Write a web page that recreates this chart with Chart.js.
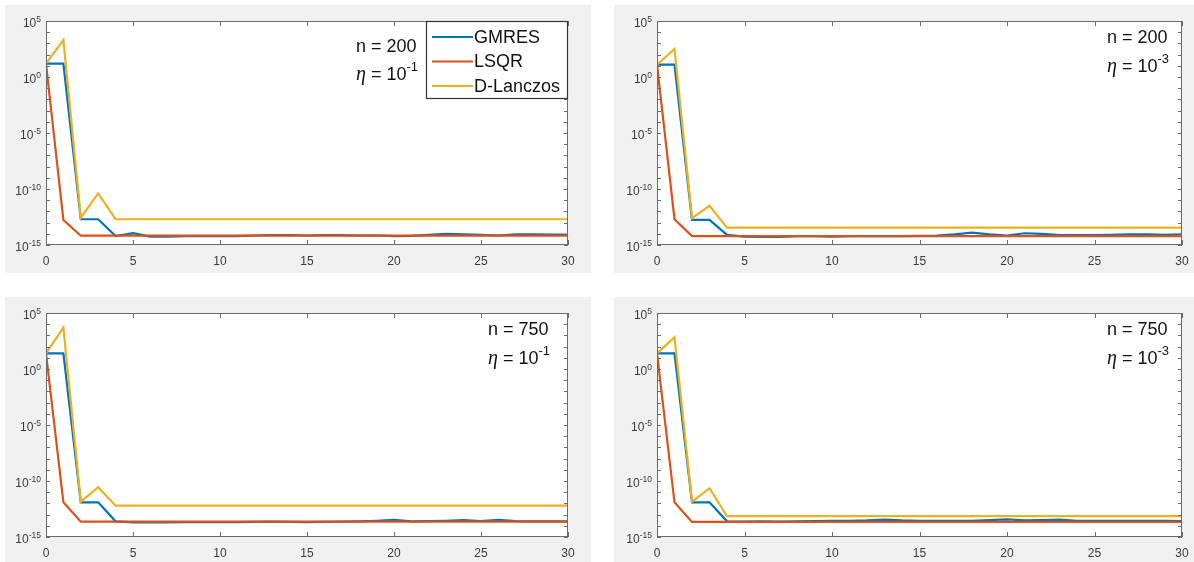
<!DOCTYPE html>
<html>
<head>
<meta charset="utf-8">
<script src="https://cdn.jsdelivr.net/npm/chart.js@4.4.0/dist/chart.umd.min.js"></script>
<style>
  html, body { margin: 0; padding: 0; background: #fff; }
  body { width: 1194px; height: 562px; position: relative; overflow: hidden; }
  .panel { position: absolute; background: #f0f0f0; }
  .panel canvas { display: block; }
</style>
</head>
<body>
<div class="panel" style="left:5px;top:5px;width:586px;height:268px"><canvas id="c1" width="586" height="268"></canvas></div>
<div class="panel" style="left:614px;top:5px;width:580px;height:268px"><canvas id="c2" width="580" height="268"></canvas></div>
<div class="panel" style="left:5px;top:297px;width:586px;height:265px"><canvas id="c3" width="586" height="265"></canvas></div>
<div class="panel" style="left:614px;top:297px;width:580px;height:265px"><canvas id="c4" width="580" height="265"></canvas></div>
<script>
// iteration numbers
const iters = [0, 1, 2, 3, 4, 5, 6, 7, 8, 9, 10, 11, 12, 13, 14, 15, 16, 17, 18, 19, 20, 21, 22, 23, 24, 25, 26, 27, 28, 29, 30];

// residuals as log10 values
// n = 200, eta = 1e-1
const gmres200a = [1.2, 1.2, -12.7, -12.7, -14.2, -13.95, -14.25, -14.25, -14.2, -14.2, -14.2, -14.2, -14.15, -14.12, -14.12, -14.15, -14.12, -14.12, -14.15, -14.15, -14.2, -14.18, -14.1, -14.0, -14.05, -14.1, -14.15, -14.05, -14.05, -14.08, -14.08];
const lsqr200a = [1.2, -12.77, -14.17, -14.17, -14.17, -14.17, -14.17, -14.17, -14.17, -14.17, -14.17, -14.17, -14.17, -14.17, -14.17, -14.17, -14.17, -14.17, -14.17, -14.17, -14.17, -14.17, -14.17, -14.17, -14.17, -14.17, -14.17, -14.17, -14.17, -14.17, -14.17];
const lanczos200a = [1.2, 3.3, -12.56, -10.4, -12.7, -12.7, -12.7, -12.7, -12.7, -12.7, -12.7, -12.7, -12.7, -12.7, -12.7, -12.7, -12.7, -12.7, -12.7, -12.7, -12.7, -12.7, -12.7, -12.7, -12.7, -12.7, -12.7, -12.7, -12.7, -12.7, -12.7];
// n = 200, eta = 1e-3
const gmres200b = [1.1, 1.1, -12.75, -12.75, -14.1, -14.25, -14.28, -14.28, -14.22, -14.22, -14.25, -14.22, -14.2, -14.2, -14.2, -14.18, -14.15, -14.05, -13.9, -14.05, -14.15, -13.95, -14.0, -14.12, -14.12, -14.12, -14.1, -14.05, -14.05, -14.1, -14.05];
const lsqr200b = [1.1, -12.7, -14.2, -14.2, -14.2, -14.2, -14.2, -14.2, -14.2, -14.2, -14.2, -14.2, -14.2, -14.2, -14.2, -14.2, -14.2, -14.2, -14.2, -14.2, -14.2, -14.2, -14.2, -14.2, -14.2, -14.2, -14.2, -14.2, -14.2, -14.2, -14.2];
const lanczos200b = [1.1, 2.5, -12.6, -11.5, -13.45, -13.45, -13.45, -13.45, -13.45, -13.45, -13.45, -13.45, -13.45, -13.45, -13.45, -13.45, -13.45, -13.45, -13.45, -13.45, -13.45, -13.45, -13.45, -13.45, -13.45, -13.45, -13.45, -13.45, -13.45, -13.45, -13.45];
// n = 750, eta = 1e-1
const gmres750a = [1.4, 1.4, -11.9, -11.9, -13.6, -13.7, -13.7, -13.7, -13.68, -13.68, -13.68, -13.68, -13.65, -13.62, -13.65, -13.68, -13.65, -13.62, -13.6, -13.55, -13.48, -13.6, -13.58, -13.55, -13.5, -13.58, -13.47, -13.58, -13.6, -13.6, -13.6];
const lsqr750a = [1.4, -11.9, -13.63, -13.63, -13.63, -13.63, -13.63, -13.63, -13.63, -13.63, -13.63, -13.63, -13.63, -13.63, -13.63, -13.63, -13.63, -13.63, -13.63, -13.63, -13.63, -13.63, -13.63, -13.63, -13.63, -13.63, -13.63, -13.63, -13.63, -13.63, -13.63];
const lanczos750a = [1.4, 3.7, -11.85, -10.56, -12.2, -12.2, -12.2, -12.2, -12.2, -12.2, -12.2, -12.2, -12.2, -12.2, -12.2, -12.2, -12.2, -12.2, -12.2, -12.2, -12.2, -12.2, -12.2, -12.2, -12.2, -12.2, -12.2, -12.2, -12.2, -12.2, -12.2];
// n = 750, eta = 1e-3
const gmres750b = [1.4, 1.4, -11.9, -11.9, -13.6, -13.62, -13.6, -13.62, -13.6, -13.58, -13.55, -13.55, -13.52, -13.45, -13.52, -13.55, -13.55, -13.55, -13.55, -13.5, -13.42, -13.52, -13.5, -13.45, -13.55, -13.55, -13.55, -13.55, -13.55, -13.55, -13.57];
const lsqr750b = [1.4, -11.9, -13.65, -13.65, -13.65, -13.65, -13.65, -13.65, -13.65, -13.65, -13.65, -13.65, -13.65, -13.65, -13.65, -13.65, -13.65, -13.65, -13.65, -13.65, -13.65, -13.65, -13.65, -13.65, -13.65, -13.65, -13.65, -13.65, -13.65, -13.65, -13.65];
const lanczos750b = [1.4, 2.83, -11.85, -10.65, -13.13, -13.13, -13.13, -13.13, -13.13, -13.13, -13.13, -13.13, -13.13, -13.13, -13.13, -13.13, -13.13, -13.13, -13.13, -13.13, -13.13, -13.13, -13.13, -13.13, -13.13, -13.13, -13.13, -13.13, -13.13, -13.13, -13.13];

// axis ticks
const xTicks = [0, 5, 10, 15, 20, 25, 30];
const yTickExps = [5, 0, -5, -10, -15];
const yMinorExps = [5, 4, 3, 2, 1, 0, -1, -2, -3, -4, -5, -6, -7, -8, -9, -10, -11, -12, -13, -14, -15];

const seriesNames = ['GMRES', 'LSQR', 'D-Lanczos'];
const seriesColors = ['#0072bd', '#d95319', '#edb120'];

const SANS = '"Liberation Sans", Arial, Helvetica, sans-serif';
const AXIS_COLOR = '#6a6a6a';
const TEXT_COLOR = '#3a3a3a';

function toPoints(logs) {
  return iters.map((x, i) => ({ x: x, y: Math.pow(10, logs[i]) }));
}

function drawPow(ctx, xRight, baseline, exp, size, supSize, rise, color) {
  ctx.fillStyle = color;
  ctx.textAlign = 'left';
  ctx.textBaseline = 'alphabetic';
  ctx.font = size + 'px ' + SANS;
  const w1 = ctx.measureText('10').width;
  ctx.font = supSize + 'px ' + SANS;
  const w2 = ctx.measureText(String(exp)).width;
  const x0 = xRight - w1 - w2;
  ctx.font = size + 'px ' + SANS;
  ctx.fillText('10', x0, baseline);
  ctx.font = supSize + 'px ' + SANS;
  ctx.fillText(String(exp), x0 + w1, baseline - rise);
}

function makeFrame(panel) {
  return {
    id: 'frame',
    beforeDatasetsDraw(chart) {
      const a = chart.chartArea, ctx = chart.ctx;
      ctx.save();
      ctx.fillStyle = '#ffffff';
      ctx.fillRect(a.left, a.top, a.right - a.left, a.bottom - a.top);
      ctx.restore();
    },
    afterDraw(chart) {
      const a = chart.chartArea, ctx = chart.ctx;
      const xs = chart.scales.x, ys = chart.scales.y;
      ctx.save();
      // box
      ctx.strokeStyle = AXIS_COLOR;
      ctx.lineWidth = 1;
      ctx.strokeRect(Math.round(a.left) + 0.5, Math.round(a.top) + 0.5,
        Math.round(a.right - a.left) - 1, Math.round(a.bottom - a.top) - 1);
      // x ticks, inward, top and bottom
      ctx.beginPath();
      xTicks.forEach(v => {
        const px = Math.round(xs.getPixelForValue(v)) + 0.5;
        ctx.moveTo(px, a.bottom); ctx.lineTo(px, a.bottom - 5);
        ctx.moveTo(px, a.top); ctx.lineTo(px, a.top + 5);
      });
      // y ticks every decade, left and right
      yMinorExps.forEach(e => {
        const py = Math.round(ys.getPixelForValue(Math.pow(10, e))) + 0.5;
        ctx.moveTo(a.left, py); ctx.lineTo(a.left + 4, py);
        ctx.moveTo(a.right, py); ctx.lineTo(a.right - 4, py);
      });
      ctx.stroke();
      // x labels
      ctx.fillStyle = TEXT_COLOR;
      ctx.font = '12px ' + SANS;
      ctx.textAlign = 'center';
      ctx.textBaseline = 'alphabetic';
      xTicks.forEach(v => {
        ctx.fillText(String(v), xs.getPixelForValue(v), a.bottom + 20);
      });
      // y labels
      yTickExps.forEach(e => {
        const py = ys.getPixelForValue(Math.pow(10, e));
        drawPow(ctx, a.left - 5, py + 5.5, e, 12, 8.5, 5, TEXT_COLOR);
      });
      // annotation
      const an = panel.anno;
      ctx.fillStyle = '#111111';
      ctx.textAlign = 'left';
      ctx.font = '18px ' + SANS;
      ctx.fillText(an.n, an.x, an.y1);
      ctx.font = 'italic 20px "Liberation Serif", "Times New Roman", serif';
      ctx.fillText('\u03b7', an.x, an.y2);
      const we = ctx.measureText('\u03b7').width;
      ctx.font = '18px ' + SANS;
      ctx.fillText(' = 10', an.x + we, an.y2);
      const wb = ctx.measureText(' = 10').width;
      ctx.font = '13px ' + SANS;
      ctx.fillText(an.eta, an.x + we + wb, an.y2 - 9);
      // legend
      if (panel.legend) {
        const lw = 142, lh = 78;
        const lx = a.right - lw, ly = a.top;
        ctx.fillStyle = '#ffffff';
        ctx.fillRect(lx, ly, lw, lh);
        ctx.strokeStyle = '#333333';
        ctx.lineWidth = 1.2;
        ctx.strokeRect(Math.round(lx) + 0.5, Math.round(ly) + 0.5, lw - 1, lh - 1);
        seriesNames.forEach((name, i) => {
          const cy = ly + 16 + i * 24.5;
          ctx.strokeStyle = seriesColors[i];
          ctx.lineWidth = 2.2;
          ctx.beginPath();
          ctx.moveTo(lx + 6, cy); ctx.lineTo(lx + 47, cy);
          ctx.stroke();
          ctx.fillStyle = '#111111';
          ctx.font = '18px ' + SANS;
          ctx.textBaseline = 'middle';
          ctx.fillText(name, lx + 48, cy + 1);
        });
      }
      ctx.restore();
    }
  };
}

const panels = [
  { id: 'c1', pad: { left: 41, right: 23, top: 16, bottom: 28 }, series: [gmres200a, lsqr200a, lanczos200a],
    anno: { n: 'n = 200', eta: '-1', x: 351, y1: 47, y2: 75 }, legend: true },
  { id: 'c2', pad: { left: 43, right: 12, top: 16, bottom: 28 }, series: [gmres200b, lsqr200b, lanczos200b],
    anno: { n: 'n = 200', eta: '-3', x: 493, y1: 38, y2: 67 }, legend: false },
  { id: 'c3', pad: { left: 41, right: 23, top: 16, bottom: 25 }, series: [gmres750a, lsqr750a, lanczos750a],
    anno: { n: 'n = 750', eta: '-1', x: 483, y1: 38, y2: 67 }, legend: false },
  { id: 'c4', pad: { left: 43, right: 12, top: 16, bottom: 25 }, series: [gmres750b, lsqr750b, lanczos750b],
    anno: { n: 'n = 750', eta: '-3', x: 493, y1: 38, y2: 67 }, legend: false }
];

panels.forEach(p => {
  const ctx = document.getElementById(p.id).getContext('2d');
  new Chart(ctx, {
    type: 'line',
    data: {
      datasets: p.series.map((s, i) => ({
        label: seriesNames[i],
        data: toPoints(s),
        borderColor: seriesColors[i],
        backgroundColor: seriesColors[i],
        borderWidth: 2.2,
        pointRadius: 0,
        tension: 0,
        fill: false,
        order: 3 - i
      }))
    },
    options: {
      responsive: false,
      animation: false,
      devicePixelRatio: 1,
      layout: { padding: p.pad },
      plugins: { legend: { display: false }, tooltip: { enabled: false } },
      scales: {
        x: { type: 'linear', min: 0, max: 30, display: false },
        y: { type: 'logarithmic', min: 1e-15, max: 1e5, display: false }
      }
    },
    plugins: [makeFrame(p)]
  });
});
</script>
</body>
</html>
